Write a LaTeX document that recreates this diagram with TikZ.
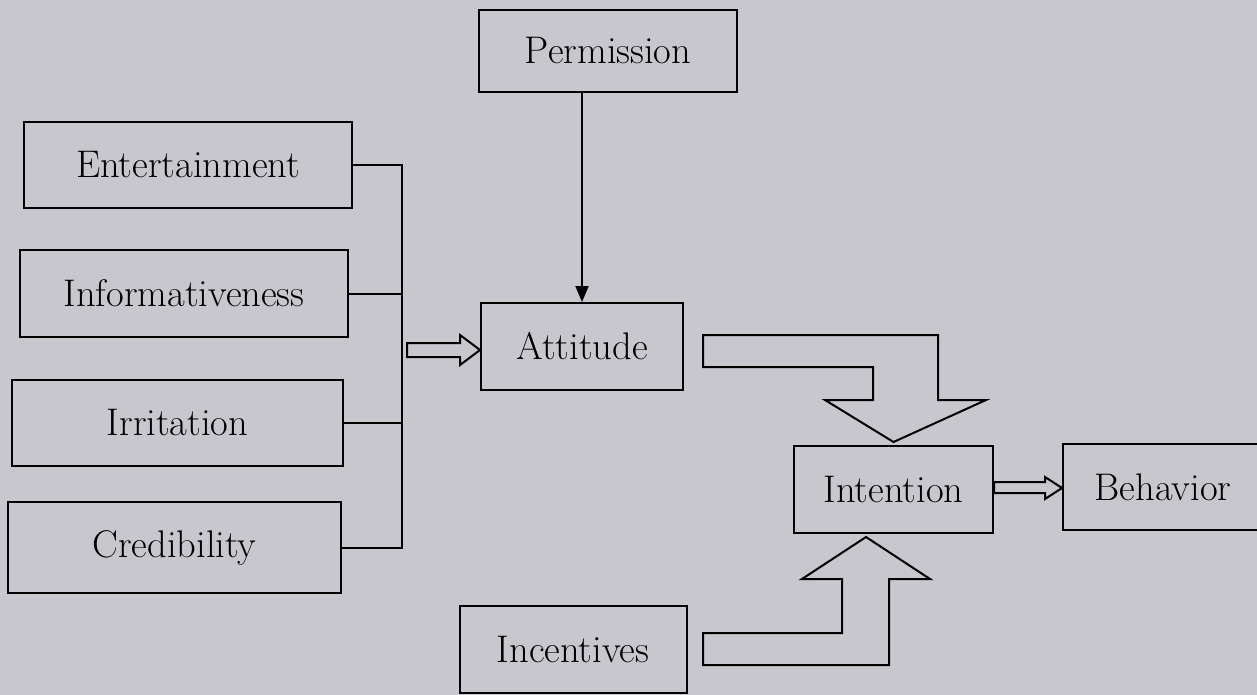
\documentclass[tikz,border=0pt]{standalone}
\usetikzlibrary{arrows.meta,calc}
\definecolor{paper}{RGB}{200,199,205}
\begin{document}
\begin{tikzpicture}[x=1pt,y=-1pt,
  line width=2pt,
  box/.style={draw=black, line width=2pt, fill=paper, inner sep=0pt,
    font=\fontsize{38.5}{44}\selectfont, text=black},
  hollow/.style={draw=black, line width=2pt, fill=paper, line join=miter},
  link/.style={draw=black, line width=2pt}]
\fill[paper] (0,0) rectangle (1257,695);
\useasboundingbox (0,0) rectangle (1257,695);
\clip (0,0) rectangle (1257,695);

\node[box, minimum width=258pt, minimum height=82pt] (perm) at (608,51) {Permission};
\node[box, minimum width=328pt, minimum height=86pt] (ent) at (188,165) {Entertainment};
\node[box, minimum width=328pt, minimum height=87pt] (inf) at (184,293.5) {Informativeness};
\node[box, minimum width=331pt, minimum height=86pt] (irr) at (177.5,423) {Irritation};
\node[box, minimum width=333pt, minimum height=91pt] (cred) at (174.5,547.5) {Credibility};
\node[box, minimum width=202pt, minimum height=87pt] (att) at (582,346.5) {Attitude};
\node[box, minimum width=199pt, minimum height=87pt] (int) at (893.5,489.5) {Intention};
\node[box, minimum width=200pt, minimum height=86pt] (beh) at (1163,487) {Behavior};
\node[box, minimum width=227pt, minimum height=87pt] (inc) at (573,649.5) {Incentives};

% bracket joining the four factors
\coordinate (bx) at (402,0);
\draw[link] (ent.east) -- (ent.east -| bx);
\draw[link] (inf.east) -- (inf.east -| bx);
\draw[link] (irr.east) -- (irr.east -| bx);
\draw[link] (cred.east) -- (cred.east -| bx);
\draw[link, line cap=rect] (ent.east -| bx) -- (cred.east -| bx);

% hollow arrow to Attitude
\draw[hollow] (407,343) -- (460,343) -- (460,335) -- (att.west |- 0,350) -- (460,365) -- (460,357) -- (407,357) -- cycle;

% Permission -> Attitude
\draw[link, -{Triangle[length=16pt,width=13pt]}] (perm.south -| att.north) -- (att.north);

% big bent arrow Attitude -> Intention
\draw[hollow] (703,335) -- (938,335) -- (938,400) -- (986,400) -- (int.north |- 0,442)
  -- (825,400) -- (873,400) -- (873,367) -- (703,367) -- cycle;

% big bent arrow Incentives -> Intention
\draw[hollow] (703,665) -- (889,665) -- (889,579) -- (930,579) -- (866,537)
  -- (802,579) -- (842,579) -- (842,633) -- (703,633) -- cycle;

% hollow arrow Intention -> Behavior
\draw[hollow] (int.east |- 0,482) -- (1045,482) -- (1045,477) -- (beh.west |- 0,488)
  -- (1045,499) -- (1045,493) -- (int.east |- 0,493) -- cycle;
\end{tikzpicture}
\end{document}
